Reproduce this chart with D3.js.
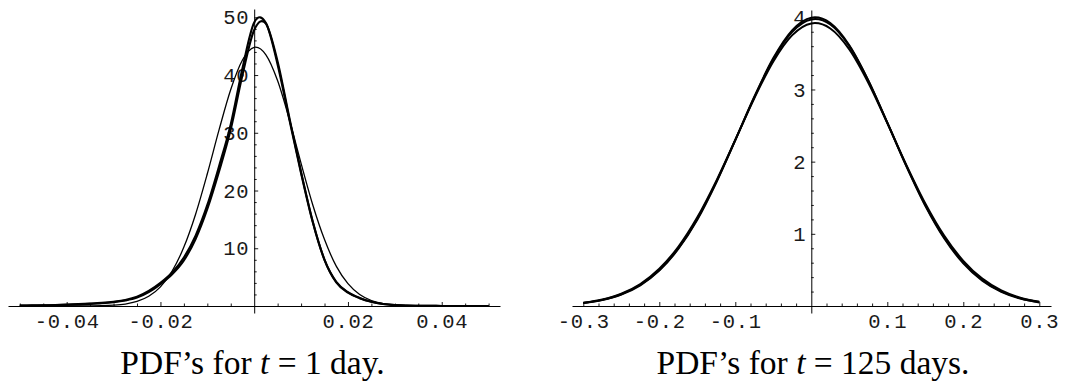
<!DOCTYPE html>
<html>
<head>
<meta charset="utf-8">
<script src="https://cdn.jsdelivr.net/npm/d3@7"></script>
<style>
  body { margin: 0; background: #fff; }
  .tick text { font-family: "Liberation Mono", "DejaVu Sans Mono", monospace; font-size: 20.5px; letter-spacing: 0.7px; fill: #1a1a1a; }
  .caption { font-family: "Liberation Serif", serif; font-size: 33.5px; fill: #000; white-space: pre; }
</style>
</head>
<body>
<svg id="chart" width="1076" height="381"></svg>
<script>
// ---- left panel: t = 1 day ----
const leftX = [-0.05, -0.0475, -0.045, -0.0425, -0.04, -0.0375, -0.035, -0.0325, -0.03, -0.0275,
  -0.025, -0.0225, -0.02, -0.0175, -0.015, -0.0125, -0.01, -0.0075, -0.005, -0.0025,
  0, 0.0025, 0.005, 0.0075, 0.01, 0.0125, 0.015, 0.0175, 0.02, 0.0225,
  0.025, 0.0275, 0.03, 0.0325, 0.035, 0.0375, 0.04, 0.0425, 0.045, 0.0475, 0.05];
const leftThickA = [0.08, 0.1, 0.13, 0.18, 0.25, 0.32, 0.42, 0.55, 0.75, 1.05,
  1.6, 2.6, 4.0, 5.8, 8.4, 12.2, 17.5, 24.2, 31.5, 41.2,
  49.1, 49.0, 41.8, 32.3, 23.0, 14.5, 8.0, 4.2, 2.4, 1.4,
  0.75, 0.35, 0.15, 0.07, 0.04, 0.02, 0.01, 0.005, 0, 0, 0];
const leftThickB = [0.06, 0.08, 0.1, 0.14, 0.2, 0.27, 0.36, 0.48, 0.66, 0.95,
  1.45, 2.4, 3.8, 5.5, 7.9, 11.6, 16.8, 23.3, 30.6, 40.0,
  47.8, 48.9, 42.3, 32.6, 23.2, 14.6, 8.0, 4.1, 2.3, 1.35,
  0.72, 0.34, 0.15, 0.07, 0.04, 0.02, 0.01, 0.005, 0, 0, 0];
const leftThin = [0, 0, 0, 0.0005, 0.002, 0.005, 0.017, 0.05, 0.14, 0.34,
  0.79, 1.68, 3.32, 6.06, 10.2, 15.9, 22.9, 30.5, 37.5, 42.6,
  44.8, 43.5, 39.0, 32.3, 24.7, 17.5, 11.5, 6.9, 3.87, 1.99,
  0.95, 0.42, 0.17, 0.064, 0.022, 0.007, 0.002, 0.0005, 0, 0, 0];
const leftXTicks = [-0.04, -0.02, 0.02, 0.04];
const leftXLabels = ['-0.04', '-0.02', '0.02', '0.04'];
const leftXMinor = [-0.05, -0.045, -0.035, -0.03, -0.025, -0.015, -0.01, -0.005,
  0.005, 0.01, 0.015, 0.025, 0.03, 0.035, 0.045, 0.05];
const leftYTicks = [10, 20, 30, 40, 50];
const leftYLabels = ['10', '20', '30', '40', '50'];
const leftYMinor = [2, 4, 6, 8, 12, 14, 16, 18, 22, 24, 26, 28, 32, 34, 36, 38, 42, 44, 46, 48];

// ---- right panel: t = 125 days ----
const rightX = [-0.3, -0.275, -0.25, -0.225, -0.2, -0.175, -0.15, -0.125, -0.1, -0.075, -0.05, -0.025,
  0, 0.025, 0.05, 0.075, 0.1, 0.125, 0.15, 0.175, 0.2, 0.225, 0.25, 0.275, 0.3];
const rightThickA = [0.040, 0.082, 0.158, 0.287, 0.49, 0.79, 1.194, 1.71, 2.297, 2.899, 3.435, 3.823,
  3.995, 3.92, 3.613, 3.126, 2.54, 1.939, 1.389, 0.935, 0.591, 0.35, 0.195, 0.102, 0.05];
const rightThickB = [0.042, 0.085, 0.163, 0.294, 0.50, 0.80, 1.21, 1.72, 2.30, 2.89, 3.42, 3.80,
  3.97, 3.90, 3.60, 3.12, 2.54, 1.945, 1.40, 0.95, 0.605, 0.362, 0.203, 0.108, 0.054];
const rightThin = [0.044, 0.089, 0.17, 0.305, 0.516, 0.82, 1.229, 1.734, 2.302, 2.878, 3.388, 3.753,
  3.915, 3.845, 3.555, 3.094, 2.536, 1.956, 1.421, 0.972, 0.626, 0.379, 0.216, 0.116, 0.059];
const rightXTicks = [-0.3, -0.2, -0.1, 0.1, 0.2, 0.3];
const rightXLabels = ['-0.3', '-0.2', '-0.1', '0.1', '0.2', '0.3'];
const rightXMinor = [-0.28, -0.26, -0.24, -0.22, -0.18, -0.16, -0.14, -0.12, -0.08, -0.06, -0.04, -0.02,
  0.02, 0.04, 0.06, 0.08, 0.12, 0.14, 0.16, 0.18, 0.22, 0.24, 0.26, 0.28];
const rightYTicks = [1, 2, 3, 4];
const rightYLabels = ['1', '2', '3', '4'];
const rightYMinor = [0.2, 0.4, 0.6, 0.8, 1.2, 1.4, 1.6, 1.8, 2.2, 2.4, 2.6, 2.8, 3.2, 3.4, 3.6, 3.8];

const svg = d3.select('#chart');
svg.append('rect').attr('width', 1076).attr('height', 381).attr('fill', '#fff');

function drawPanel(p) {
  const x = d3.scaleLinear().domain(p.xDomain).range(p.xRange);
  const y = d3.scaleLinear().domain(p.yDomain).range([306, 17.3]);

  // axis lines run a bit past the data range, like Mathematica's
  const xAx = x.copy().domain([x.invert(p.xLine[0]), x.invert(p.xLine[1])]).range(p.xLine);
  const yAx = y.copy().domain([y.invert(p.yLine[1]), y.invert(p.yLine[0])]).range([p.yLine[1], p.yLine[0]]);

  const g = svg.append('g');

  // x axis
  g.append('g')
    .attr('transform', `translate(0, ${y(0)})`)
    .call(d3.axisBottom(xAx).tickValues(p.xMinor).tickFormat('').tickSize(-2.5).tickSizeOuter(0))
    .call(s => s.select('.domain').remove());
  g.append('g')
    .attr('transform', `translate(0, ${y(0)})`)
    .call(d3.axisBottom(xAx).tickValues(p.xTicks)
      .tickFormat((d, i) => p.xLabels[i]).tickSize(-4).tickSizeOuter(0).tickPadding(7));

  // y axis
  g.append('g')
    .attr('transform', `translate(${x(0)}, 0)`)
    .call(d3.axisLeft(yAx).tickValues(p.yMinor).tickFormat('').tickSize(-2.5).tickSizeOuter(0))
    .call(s => s.select('.domain').remove());
  g.append('g')
    .attr('transform', `translate(${x(0)}, 0)`)
    .call(d3.axisLeft(yAx).tickValues(p.yTicks)
      .tickFormat((d, i) => p.yLabels[i]).tickSize(-4).tickSizeOuter(0).tickPadding(5));

  g.selectAll('.domain').attr('stroke', '#000').attr('stroke-width', 1);
  g.selectAll('.tick line').attr('stroke', '#000').attr('stroke-width', 0.9);

  p.series.forEach(s => {
    const line = d3.line()
      .x((d, i) => x(p.xs[i]))
      .y(d => y(d))
      .curve(d3.curveCardinal);
    g.append('path')
      .datum(s.values)
      .attr('fill', 'none')
      .attr('stroke', '#000')
      .attr('stroke-width', s.width)
      .attr('stroke-linejoin', 'round')
      .attr('d', line);
  });

  const cap = g.append('text')
    .attr('class', 'caption')
    .attr('x', p.captionX)
    .attr('y', 374)
    .attr('text-anchor', 'middle');
  cap.append('tspan').text('PDF\u2019s for ');
  cap.append('tspan').attr('font-style', 'italic').text('t');
  cap.append('tspan').text(' = ' + p.captionTail);
}

drawPanel({
  xs: leftX,
  xDomain: [-0.05, 0.05], xRange: [19.8, 488.6],
  yDomain: [0, 50],
  xLine: [8, 500], yLine: [9, 313],
  xTicks: leftXTicks, xLabels: leftXLabels, xMinor: leftXMinor,
  yTicks: leftYTicks, yLabels: leftYLabels, yMinor: leftYMinor,
  series: [
    {values: leftThin, width: 1.3},
    {values: leftThickB, width: 2.1},
    {values: leftThickA, width: 2.1}
  ],
  captionX: 252.5, captionTail: '1 day.'
});

drawPanel({
  xs: rightX,
  xDomain: [-0.3, 0.3], xRange: [583.3, 1039.3],
  yDomain: [0, 4],
  xLine: [572, 1051], yLine: [10, 313],
  xTicks: rightXTicks, xLabels: rightXLabels, xMinor: rightXMinor,
  yTicks: rightYTicks, yLabels: rightYLabels, yMinor: rightYMinor,
  series: [
    {values: rightThin, width: 2},
    {values: rightThickB, width: 2},
    {values: rightThickA, width: 2}
  ],
  captionX: 813, captionTail: '125 days.'
});
</script>
</body>
</html>
